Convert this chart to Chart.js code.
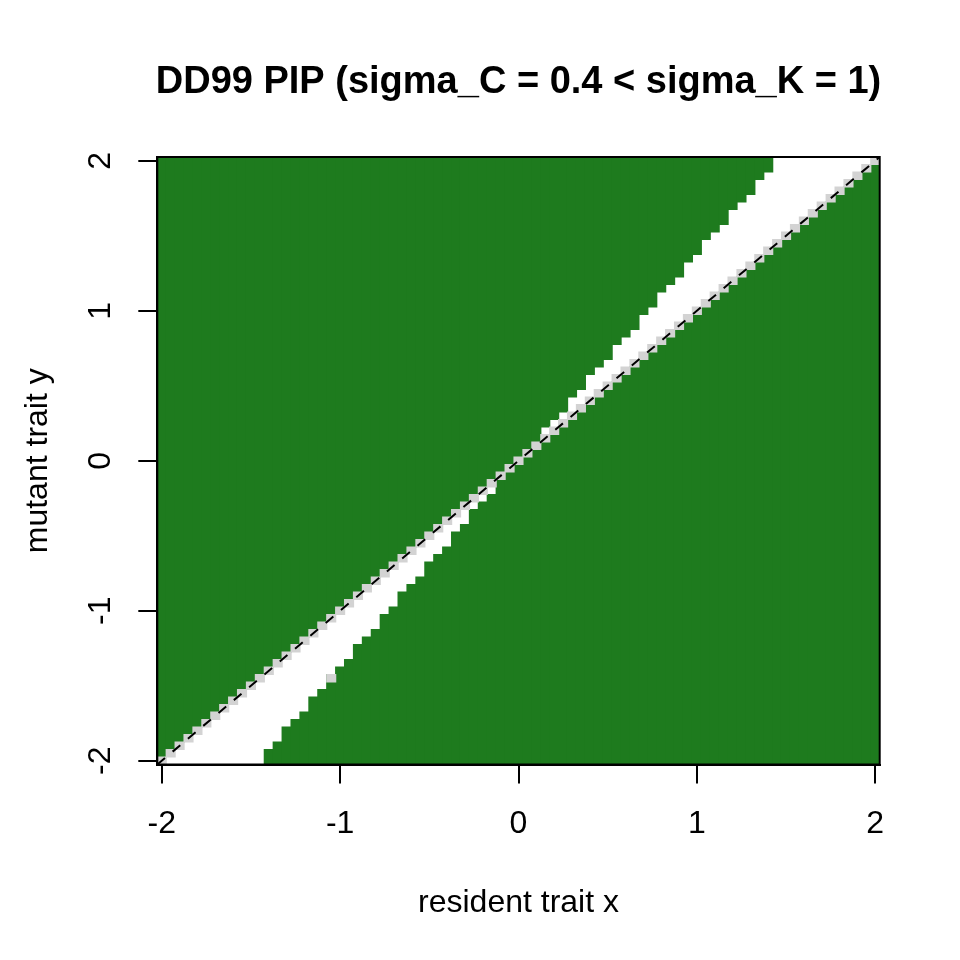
<!DOCTYPE html>
<html>
<head>
<meta charset="utf-8">
<title>DD99 PIP</title>
<script src="https://cdn.jsdelivr.net/npm/chart.js@4.4.1/dist/chart.umd.min.js"></script>
<style>
  html, body { margin: 0; padding: 0; background: #ffffff; }
  #pip { display: block; }
</style>
</head>
<body>
<canvas id="pip" width="960" height="960"></canvas>
<script>
// resident trait grid (columns), step 0.05
const residentX = [
  -2, -1.95, -1.9, -1.85, -1.8, -1.75, -1.7, -1.65, -1.6, -1.55,
  -1.5, -1.45, -1.4, -1.35, -1.3, -1.25, -1.2, -1.15, -1.1, -1.05,
  -1, -0.95, -0.9, -0.85, -0.8, -0.75, -0.7, -0.65, -0.6, -0.55,
  -0.5, -0.45, -0.4, -0.35, -0.3, -0.25, -0.2, -0.15, -0.1, -0.05,
  0,
  0.05, 0.1, 0.15, 0.2, 0.25, 0.3, 0.35, 0.4, 0.45, 0.5,
  0.55, 0.6, 0.65, 0.7, 0.75, 0.8, 0.85, 0.9, 0.95, 1,
  1.05, 1.1, 1.15, 1.2, 1.25, 1.3, 1.35, 1.4, 1.45, 1.5,
  1.55, 1.6, 1.65, 1.7, 1.75, 1.8, 1.85, 1.9, 1.95, 2
];

// number of white (mutant can't invade) cells directly below the diagonal, per column
const whiteBelow = [
  0, 1, 2, 3, 4, 5, 6, 7, 8, 9,
  10, 11, 10, 10, 9, 9, 9, 8, 8, 7,
  7, 7, 6, 6, 6, 5, 5, 4, 4, 4,
  3, 3, 3, 2, 2, 1, 1, 1, 0, 0,
  0,
  0, 0, 0, 0, 0, 0, 0, 0, 0, 0,
  0, 0, 0, 0, 0, 0, 0, 0, 0, 0,
  0, 0, 0, 0, 0, 0, 0, 0, 0, 0,
  0, 0, 0, 0, 0, 0, 0, 0, 0, 0
];

// number of white cells directly above the diagonal, per column
const whiteAbove = [
  0, 0, 0, 0, 0, 0, 0, 0, 0, 0,
  0, 0, 0, 0, 0, 0, 0, 0, 0, 0,
  0, 0, 0, 0, 0, 0, 0, 0, 0, 0,
  0, 0, 0, 0, 0, 0, 0, 0, 0, 0,
  0,
  0, 0, 1, 1, 1, 2, 2, 3, 3, 3,
  4, 4, 4, 5, 5, 6, 6, 6, 7, 7,
  8, 8, 8, 9, 9, 9, 10, 10, 11, 10,
  9, 8, 7, 6, 5, 4, 3, 2, 1, 0
];

// off-diagonal neutral (fitness == 0) cells
const neutralX = [-1.05];
const neutralY = [-1.45];

const axisTicks = [-2, -1, 0, 1, 2];

const STEP = 0.05;
const HALF = STEP / 2;
const LO = -2 - HALF;
const HI = 2 + HALF;
const GREEN = '#1e7b1e';
const GREY = '#d3d3d3';
const FONT = '"Liberation Sans", Arial, Helvetica, sans-serif';

// floating bars: green below / above the white band, grey on the diagonal
const greenLower = residentX.map((x, i) => ({ x: x, y: [LO, x - STEP * whiteBelow[i] - HALF] }));
const greenUpper = residentX.map((x, i) => ({ x: x, y: [x + STEP * whiteAbove[i] + HALF, HI] }));
const diagCells = residentX.map(x => ({ x: x, y: [x - HALF, x + HALF] }));
const extraCells = neutralX.map((x, k) => ({ x: x, y: [neutralY[k] - HALF, neutralY[k] + HALF] }));

const cellStyle = {
    type: 'bar',
    borderWidth: 0,
    barPercentage: 1,
    categoryPercentage: 1,
    inflateAmount: 0.6,
    grouped: false
};

const textPlugin = {
    id: 'pipText',
    afterDraw(chart) {
        const ctx = chart.ctx;
        const area = chart.chartArea;
        const xs = chart.scales.x;
        const ys = chart.scales.y;
        const cx = (area.left + area.right) / 2;
        const cy = (area.top + area.bottom) / 2;

        ctx.save();
        // box round the plot region
        ctx.strokeStyle = '#000';
        ctx.lineWidth = 2;
        ctx.strokeRect(area.left, area.top, area.right - area.left, area.bottom - area.top);

        ctx.fillStyle = '#000';
        ctx.textAlign = 'center';
        ctx.textBaseline = 'middle';

        // title
        ctx.font = 'bold 38px ' + FONT;
        ctx.fillText('DD99 PIP (sigma_C = 0.4 < sigma_K = 1)', cx, 83);

        // x tick labels
        ctx.font = '32px ' + FONT;
        axisTicks.forEach(v => {
            ctx.fillText(String(v), xs.getPixelForValue(v), 824);
        });
        ctx.fillText('resident trait x', cx, 903);

        // y tick labels, rotated
        axisTicks.forEach(v => {
            ctx.save();
            ctx.translate(101, ys.getPixelForValue(v));
            ctx.rotate(-Math.PI / 2);
            ctx.fillText(String(v), 0, 0);
            ctx.restore();
        });

        ctx.save();
        ctx.translate(38, cy);
        ctx.rotate(-Math.PI / 2);
        ctx.fillText('mutant trait y', 0, 0);
        ctx.restore();

        ctx.restore();
    }
};

const axisOpts = (fitFn) => ({
    type: 'linear',
    min: LO,
    max: HI,
    offset: false,
    afterBuildTicks: s => { s.ticks = axisTicks.map(v => ({ value: v })); },
    afterFit: fitFn,
    grid: {
        offset: false,
        drawOnChartArea: false,
        drawTicks: true,
        tickLength: 19,
        color: '#000',
        lineWidth: 2
    },
    border: { display: true, color: '#000', width: 2 },
    ticks: { display: false }
});

new Chart(document.getElementById('pip'), {
    type: 'bar',
    data: {
        datasets: [
            {
                type: 'line',
                data: [{ x: LO, y: LO }, { x: HI, y: HI }],
                borderColor: '#000',
                borderWidth: 2,
                borderDash: [10, 10],
                pointRadius: 0,
                order: 0
            },
            Object.assign({ data: extraCells, backgroundColor: GREY, order: 1 }, cellStyle),
            Object.assign({ data: diagCells, backgroundColor: GREY, order: 1 }, cellStyle),
            Object.assign({ data: greenUpper, backgroundColor: GREEN, order: 2 }, cellStyle),
            Object.assign({ data: greenLower, backgroundColor: GREEN, order: 2 }, cellStyle)
        ]
    },
    options: {
        responsive: false,
        animation: false,
        devicePixelRatio: 1,
        layout: { padding: { top: 157, right: 80.3, left: 0, bottom: 0 } },
        plugins: {
            legend: { display: false },
            tooltip: { enabled: false },
            title: { display: false }
        },
        scales: {
            x: axisOpts(s => { s.height = 195.5; }),
            y: axisOpts(s => { s.width = 157.3; })
        }
    },
    plugins: [textPlugin]
});
</script>
</body>
</html>
